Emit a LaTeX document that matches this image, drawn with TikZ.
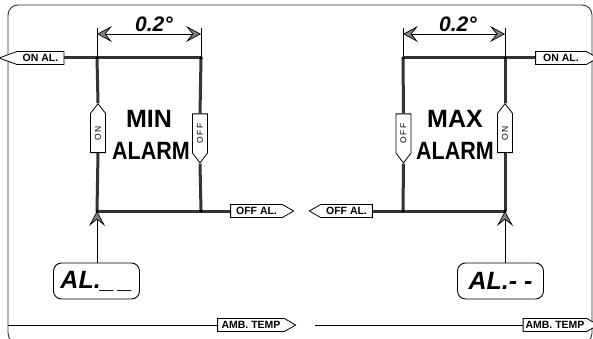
\documentclass[tikz,border=0pt]{standalone}
\usepackage{fontspec}
\setmainfont{Liberation Sans}
\usetikzlibrary{arrows.meta,shapes.symbols}

\begin{document}
\begin{tikzpicture}[
    x=1pt, y=-1pt, font=\bfseries,
    >={Stealth[length=15pt, width=16pt, inset=6.5pt, fill=black!50, line width=0.7pt]},
    wire/.style={line width=3pt, draw=black!80},
    lead/.style={line width=0.8pt, draw=black},
    tag/.style={shape=signal, draw=black, line width=0.8pt, fill=white,
      inner sep=1pt, minimum height=13pt, signal pointer angle=60,
    font=\bfseries\fontsize{10.5}{11}\selectfont},
    vtag/.style={shape=signal, draw=black, line width=0.8pt, fill=white,
      rotate=90, inner sep=1pt, minimum height=15pt, minimum width=49pt,
    signal pointer angle=75, font=\fontsize{8.5}{9}\selectfont},
    title/.style={anchor=base, font=\bfseries\fontsize{25}{25}\selectfont},
    dimtext/.style={anchor=base, font=\bfseries\itshape\fontsize{21}{21}\selectfont},
    readout/.style={draw, rounded corners=8pt, line width=0.9pt,
      minimum width=86pt, minimum height=36pt,
    font=\bfseries\itshape\fontsize{25}{25}\selectfont},
    dot/.style={circle, fill=black, inner sep=0pt, minimum size=3.5pt}]

  \useasboundingbox (0,0) rectangle (593,339);

  % ---- outer frame ----
  \draw[line width=0.9pt, black!80, rounded corners=10pt] (8,5) rectangle (592,343);

  % ---- MIN alarm ----
  \coordinate (lTL) at (97,58);
  \coordinate (lTR) at (201,58);
  \coordinate (lBL) at (97,211);
  \coordinate (lBR) at (201,211);
  \coordinate (lDL) at (97,34);
  \coordinate (lDR) at (201,34);
  \draw[lead] (97,28) -- (lTL);
  \draw[lead] (201,28) -- (lTR);
  \draw[lead, <->] (lDL) -- (lDR);
  \node[dimtext] (lhyst) at (154,32) {0.2°};

  \node[tag, signal to=west, signal pointer angle=40, minimum width=65pt] (lonal) at (40.5,58) {ON AL.};
  \node[vtag, signal to=east] (lon) at (98,133) {\addfontfeature{LetterSpace=15}ON};
  \node[vtag, signal to=west] (loff) at (200,133.5) {\addfontfeature{LetterSpace=15}OFF};
  \node[tag, signal to=east, minimum width=63pt] (loffal) at (256.5,211) {OFF AL.};

  \draw[wire] (lonal.east) -- (lTR);
  \draw[wire] (lTL) -- (lon.east);
  \draw[wire] (lon.west) -- (lBL);
  \draw[wire] (lTR) -- (loff.east);
  \draw[wire] (loff.west) -- (lBR);
  \draw[wire] (lBL) -- (loffal.west);
  \foreach \jn in {lTL,lTR,lBL,lBR}
  \node[dot] at (\jn) {};

  \node[title] (lmin) at (149,128) {MIN};
  \node[title] (lalarm) at (151,159) {\scalebox{0.86}[1]{ALARM}};

  \node[readout] (lread) at (96.5,281) {AL.\_\hspace{4pt}\_};
  \draw[lead, ->] (lread.north -| lBL) -- (lBL);

  \coordinate (lamb) at (8,325);
  \node[tag, signal to=east, minimum width=78pt] (lambt) at (251,325) {AMB. TEMP};
  \draw[lead] (lamb) -- (lambt.west);

  % ---- MAX alarm ----
  \coordinate (rTL) at (403,58);
  \coordinate (rTR) at (505,58);
  \coordinate (rBL) at (403,211);
  \coordinate (rBR) at (505,211);
  \coordinate (rDL) at (403,34);
  \coordinate (rDR) at (505,34);
  \draw[lead] (403,28) -- (rTL);
  \draw[lead] (505,28) -- (rTR);
  \draw[lead, <->] (rDL) -- (rDR);
  \node[dimtext] (rhyst) at (458,32) {0.2°};

  \node[tag, signal to=east, minimum width=62pt] (ronal) at (561,58) {ON AL.};
  \node[vtag, signal to=west] (roff) at (403.5,133.5) {\addfontfeature{LetterSpace=15}OFF};
  \node[vtag, signal to=east] (ron) at (505,133) {\addfontfeature{LetterSpace=15}ON};
  \node[tag, signal to=west, minimum width=63pt] (roffal) at (346.5,211) {OFF AL.};

  \draw[wire] (rTL) -- (ronal.west);
  \draw[wire] (rTL) -- (roff.east);
  \draw[wire] (roff.west) -- (rBL);
  \draw[wire] (rTR) -- (ron.east);
  \draw[wire] (ron.west) -- (rBR);
  \draw[wire] (roffal.east) -- (rBR);
  \foreach \jn in {rTL,rTR,rBL,rBR}
  \node[dot] at (\jn) {};

  \node[title] (rmax) at (455,128) {MAX};
  \node[title] (ralarm) at (455,159) {\scalebox{0.86}[1]{ALARM}};

  \node[readout] (rread) at (500.5,281) {AL.- -};
  \draw[lead, ->] (rread.north -| rBR) -- (rBR);

  \coordinate (ramb) at (315,325);
  \node[tag, signal to=east, minimum width=75pt] (rambt) at (555,325) {AMB. TEMP};
  \draw[lead] (ramb) -- (rambt.west);
\end{tikzpicture}
\end{document}
